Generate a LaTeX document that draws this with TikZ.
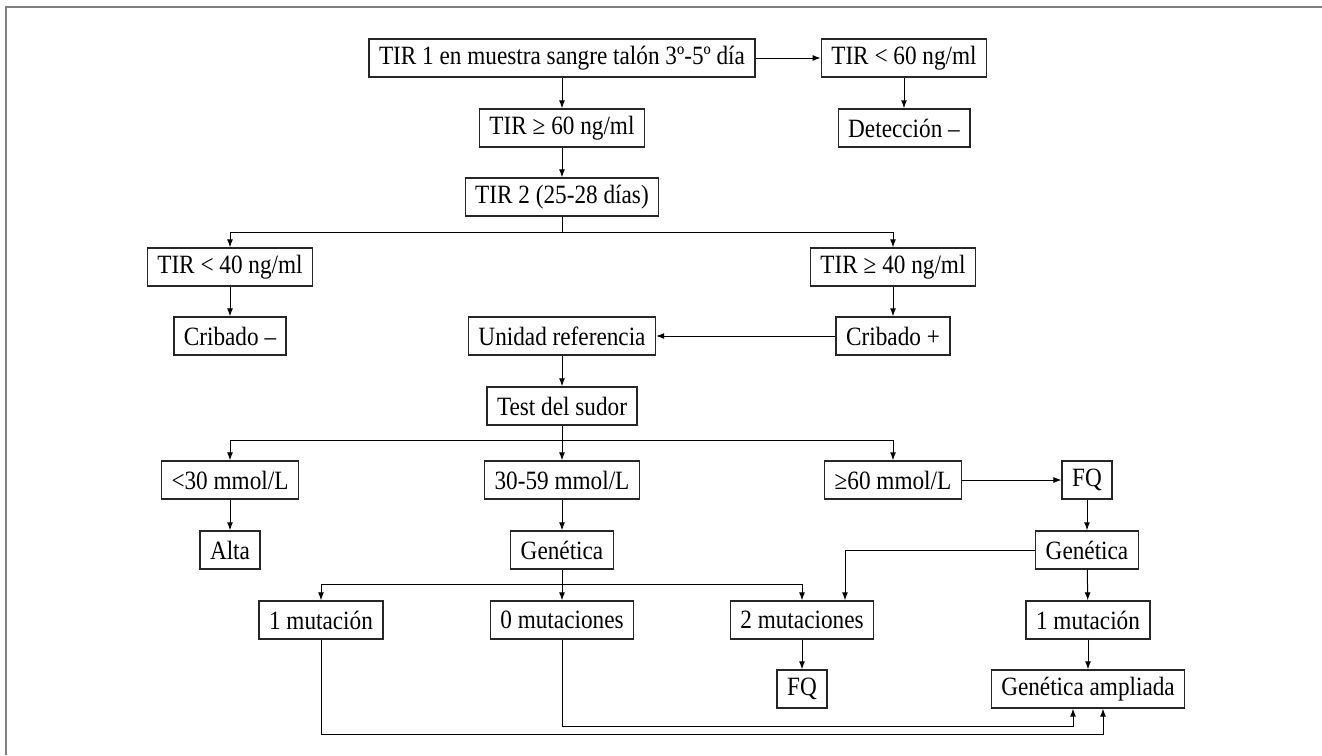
\documentclass[tikz,border=0pt]{standalone}
\usepackage{fontspec}
\setmainfont[FakeStretch=0.88]{Liberation Serif}
\usetikzlibrary{arrows.meta}

\begin{document}
\begin{tikzpicture}[x = 0.5pt, y = -0.5pt,
	caja/.style = {draw = black!85, line width = 0.7pt, minimum height = 19pt, inner xsep = 5pt, inner ysep = 0pt, font = \fontsize{13.2}{15}\selectfont},
	flecha/.style = {-{Latex[length = 4pt, width = 3pt]}, line width = 0.5pt}]
	
		\useasboundingbox (0, 0) rectangle (1322, 755);
		\draw[black!50, line width = 1pt] (6, 755) -- (6, 7) -- (1322, 7);
		
		% primera prueba
		\node[caja] (tir1) at (562, 58) {TIR 1 en muestra sangre talón 3º-5º día};
		\node[caja] (tirmenor60) at (904, 58) {TIR < 60 ng/ml};
		\node[caja] (deteccion) at (904, 128) {Detección –};
		\node[caja] (tirmayor60) at (562, 128) {TIR ≥ 60 ng/ml};
		\node[caja] (tir2) at (562, 197) {TIR 2 (25-28 días)};
		
		% segunda prueba
		\node[caja] (tirmenor40) at (230, 267) {TIR < 40 ng/ml};
		\node[caja] (tirmayor40) at (893, 267) {TIR ≥ 40 ng/ml};
		\node[caja] (cribneg) at (230, 336) {Cribado –};
		\node[caja] (unidad) at (562, 336) {Unidad referencia};
		\node[caja] (cribpos) at (893, 336) {Cribado +};
		\node[caja] (sudor) at (562, 406) {Test del sudor};
		
		% test del sudor
		\node[caja] (cl30) at (230, 480) {<30 mmol/L};
		\node[caja] (cl3059) at (562, 480) {30-59 mmol/L};
		\node[caja] (cl60) at (893, 480) {≥60 mmol/L};
		\node[caja] (fq) at (1087, 480) {FQ};
		\node[caja] (alta) at (230, 550) {Alta};
		\node[caja] (genm) at (562, 550) {Genética};
		\node[caja] (genr) at (1087, 550) {Genética};
		
		% genetica
		\node[caja] (mut1) at (321, 620) {1 mutación};
		\node[caja] (mut0) at (562, 620) {0 mutaciones};
		\node[caja] (mut2) at (802, 620) {2 mutaciones};
		\node[caja] (mut1r) at (1088, 620) {1 mutación};
		\node[caja] (fqdos) at (802, 689) {FQ};
		\node[caja] (ampliada) at (1088, 689) {Genética ampliada};
		
		\draw[flecha] (tir1) -- (tirmenor60);
		\draw[flecha] (tirmenor60) -- (deteccion);
		\draw[flecha] (tir1) -- (tirmayor60);
		\draw[flecha] (tirmayor60) -- (tir2);
		\draw[flecha] (tir2.south) -- ++(0, 16) -| (tirmenor40.north);
		\draw[flecha] (tir2.south) -- ++(0, 16) -| (tirmayor40.north);
		\draw[flecha] (tirmenor40) -- (cribneg);
		\draw[flecha] (tirmayor40) -- (cribpos);
		\draw[flecha] (cribpos) -- (unidad);
		\draw[flecha] (unidad) -- (sudor);
		
		\draw[flecha] (sudor.south) -- ++(0, 15) -| (cl30.north);
		\draw[flecha] (sudor.south) -- ++(0, 15) -| (cl60.north);
		\draw[flecha] (sudor) -- (cl3059);
		\draw[flecha] (cl30) -- (alta);
		\draw[flecha] (cl3059) -- (genm);
		\draw[flecha] (cl60) -- (fq);
		\draw[flecha] (fq) -- (genr);
		
		\draw[flecha] (genm.south) -- ++(0, 15) -| (mut1.north);
		\draw[flecha] (genm.south) -- ++(0, 15) -| (mut2.north);
		\draw[flecha] (genm) -- (mut0);
		\draw[flecha] (genr.west) -| ([xshift = 21.5pt]mut2.north);
		\draw[flecha] (genr) -- (mut1r);
		\draw[flecha] (mut2) -- (fqdos);
		\draw[flecha] (mut1r) -- (ampliada);
		\draw[flecha] (mut0.south) -- ++(0, 87) -| ([xshift = -7.5pt]ampliada.south);
		\draw[flecha] (mut1.south) -- ++(0, 95) -| ([xshift = 7.5pt]ampliada.south);
		
	\end{tikzpicture}
\end{document}
